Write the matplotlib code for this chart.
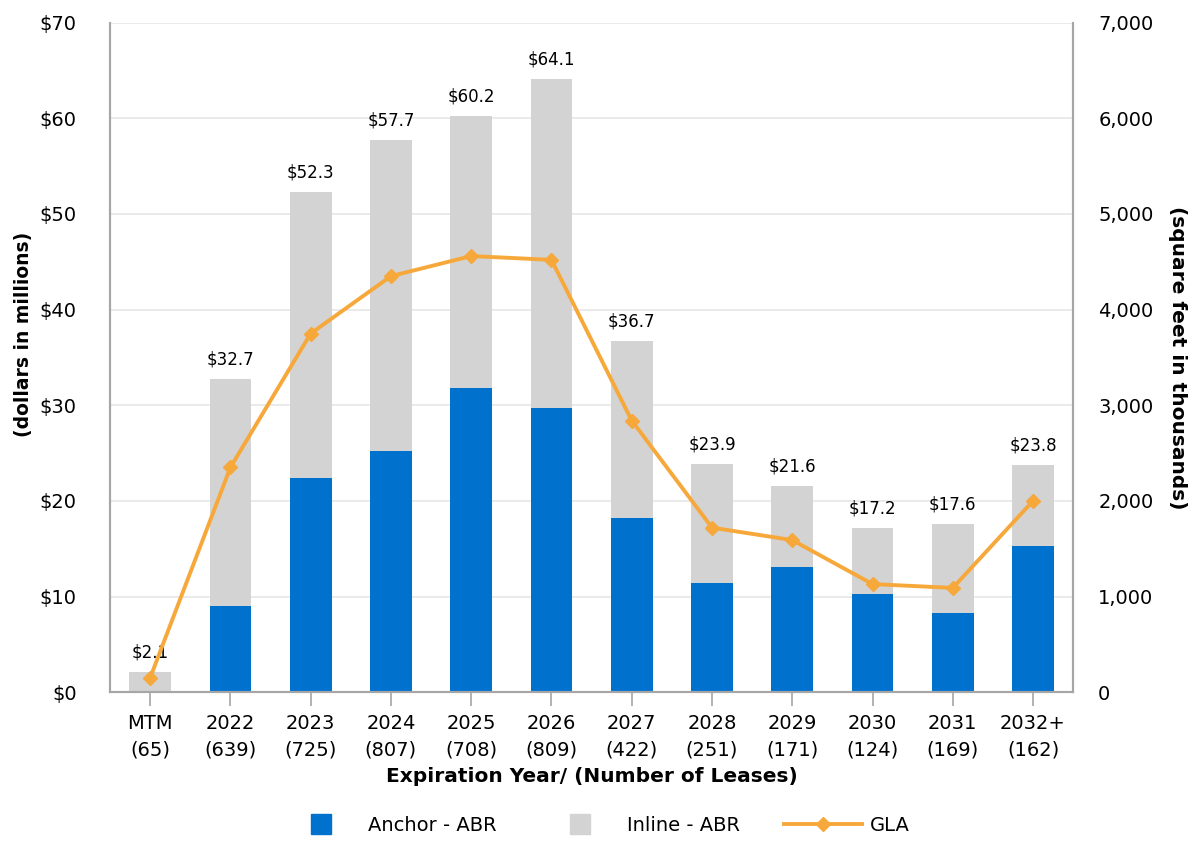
import numpy as np
import matplotlib
matplotlib.use('Agg')
from matplotlib import pyplot as plt
from matplotlib.lines import Line2D
from matplotlib.patches import Patch, Rectangle
from matplotlib.legend_handler import HandlerPatch

# lease expirations by year
years = ['MTM', '2022', '2023', '2024', '2025', '2026', '2027',
         '2028', '2029', '2030', '2031', '2032+']
n_leases = [65, 639, 725, 807, 708, 809, 422, 251, 171, 124, 169, 162]
total_abr = [2.1, 32.7, 52.3, 57.7, 60.2, 64.1, 36.7, 23.9, 21.6, 17.2, 17.6, 23.8]
anchor_abr = [0.0, 9.0, 22.4, 25.2, 31.8, 29.7, 18.2, 11.4, 13.1, 10.3, 8.3, 15.3]
gla = [150, 2350, 3750, 4350, 4560, 4520, 2840, 1720, 1590, 1130, 1090, 2000]

BLUE = '#0072CE'
GREY = '#D3D3D3'
ORANGE = '#F7A83A'
AXC = '#A6A6A6'

plt.rcParams['font.family'] = ['DejaVu Sans']


def square_patch(legend, orig_handle, xdescent, ydescent, width, height, fontsize):
    # small square centred in the (wider) handle box
    s = 14
    return Rectangle((xdescent + (width - s) / 2.0, ydescent + (height - s) / 2.0 - 2.5), s, s)


inline_abr = [t - a for t, a in zip(total_abr, anchor_abr)]
x = np.arange(len(years))

fig = plt.figure(figsize=(11.92, 8.41), dpi=100)
ax = fig.add_axes([0.0923, 0.177, 0.808, 0.796])
ax2 = ax.twinx()

ax.bar(x, anchor_abr, width=0.52, color=BLUE, zorder=2)
ax.bar(x, inline_abr, width=0.52, bottom=anchor_abr, color=GREY, zorder=2)
for xi, t in zip(x, total_abr):
    ax.text(xi, t + 1.1, '$%.1f' % t, ha='center', va='bottom', fontsize=12)

ax2.plot(x, gla, color=ORANGE, lw=2.8, marker='D', ms=7, zorder=3)

ax.set_xlim(-0.5, len(years) - 0.5)
ax.set_ylim(0, 70)
ax2.set_ylim(0, 7000)
ax.set_yticks(np.arange(0, 71, 10))
ax.set_yticklabels(['$%d' % v for v in range(0, 71, 10)])
ax2.set_yticks(np.arange(0, 7001, 1000))
ax2.set_yticklabels(['{:,}'.format(v) for v in range(0, 7001, 1000)])
ax.set_xticks(x)
ax.set_xticklabels(['%s\n(%d)' % (y, n) for y, n in zip(years, n_leases)],
                   linespacing=1.45)

ax.grid(axis='y', color='#E6E6E6', lw=1.2, zorder=0)
ax.set_axisbelow(True)
for a in (ax, ax2):
    a.spines['top'].set_visible(False)
    for s in ('left', 'right', 'bottom'):
        a.spines[s].set_color(AXC)
        a.spines[s].set_linewidth(1.5)
ax.tick_params(axis='y', length=0, labelsize=14, pad=24)
ax2.tick_params(axis='y', length=0, labelsize=14, pad=18)
ax.tick_params(axis='x', length=10, color=AXC, width=1.2, labelsize=14, pad=6)

ax.set_ylabel('(dollars in millions)', fontsize=13.5, fontweight='bold')
ax.yaxis.set_label_coords(-0.080, 0.535)
ax2.set_ylabel('(square feet in thousands)', fontsize=14.5, fontweight='bold',
               rotation=270, labelpad=24)
ax.set_xlabel('Expiration Year/ (Number of Leases)', fontsize=14.5,
              fontweight='bold', labelpad=6)

handles = [Patch(color=BLUE), Patch(color=GREY),
           Line2D([], [], color=ORANGE, lw=2.8, marker='D', ms=7)]
fig.legend(handles, ['Anchor - ABR', 'Inline - ABR', 'GLA'], loc='lower center',
           bbox_to_anchor=(0.5, -0.014), ncol=3, frameon=False, fontsize=14,
           handlelength=4.0, handleheight=1.0, columnspacing=2.3, handletextpad=0.4,
           handler_map={Patch: HandlerPatch(patch_func=square_patch)})

fig.savefig('out.png', dpi=100)
